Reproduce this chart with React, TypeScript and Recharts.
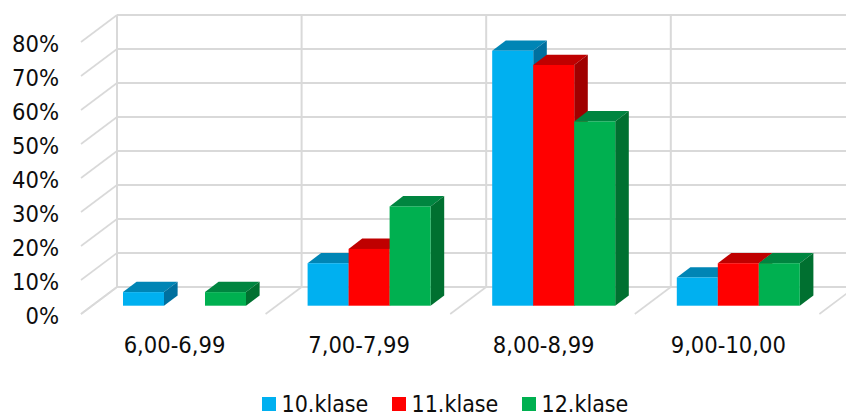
import React from "react";
import { BarChart, Bar, XAxis, YAxis, CartesianGrid, Legend } from "recharts";

const categories = ["6,00-6,99", "7,00-7,99", "8,00-8,99", "9,00-10,00"];
const klase10 = [4, 12.5, 75, 8.3];
const klase11 = [0, 16.7, 70.8, 12.5];
const klase12 = [4, 29.2, 54.2, 12.5];
const yTicks = [0, 10, 20, 30, 40, 50, 60, 70, 80];
const seriesNames = ["10.klase", "11.klase", "12.klase"];

const data = categories.map((name, i) => ({
  name,
  a: klase10[i],
  b: klase11[i],
  c: klase12[i],
}));

const FONT = '"DejaVu Sans Condensed", "DejaVu Sans", sans-serif';
const GRID = "#d9d9d9";
const TEXT = "#0d0d0d";
const BACK_DX = 67.5;
const BACK_DY = 18.7;
const FLOOR_DX = 36;
const FLOOR_DY = 27;
const DEPTH_X = 13.6;
const DEPTH_Y = 10.3;
const FONT_SIZE = 23.5;
const BAND = 184.6;
const PLOT_LEFT = 92.2;
const PLOT_RIGHT = 830.6;

const colorsBlue = { front: "#00b0f0", top: "#0085b5", side: "#00709f" };
const colorsRed = { front: "#ff0000", top: "#bf0000", side: "#a00000" };
const colorsGreen = { front: "#00b050", top: "#008540", side: "#007030" };

function box3d(c: { front: string; top: string; side: string }) {
  return (p: any) => {
    const { x, y, width, height } = p;
    if (!height || height <= 0) return <g />;
    const r = x + width;
    const b = y + height;
    return (
      <g>
        <polygon
          points={`${x},${y} ${x + DEPTH_X},${y - DEPTH_Y} ${r + DEPTH_X},${y - DEPTH_Y} ${r},${y}`}
          fill={c.top}
        />
        <polygon
          points={`${r},${y} ${r + DEPTH_X},${y - DEPTH_Y} ${r + DEPTH_X},${b - DEPTH_Y} ${r},${b}`}
          fill={c.side}
        />
        <rect x={x} y={y} width={width} height={height} fill={c.front} />
      </g>
    );
  };
}

function gridH(p: any) {
  const y = p.y1;
  const by = y - BACK_DY;
  const bx = p.x1 + 24.8;
  return (
    <g key={p.key ?? `h${y}`}>
      <line x1={bx - FLOOR_DX} y1={by + FLOOR_DY} x2={bx} y2={by} stroke={GRID} strokeWidth={1.6} />
      <line x1={bx} y1={by} x2={870} y2={by} stroke={GRID} strokeWidth={2} />
    </g>
  );
}

function wall(x: number, top: number, bottom: number, key: string) {
  const by = bottom - BACK_DY;
  return (
    <g key={key}>
      <line x1={x} y1={top - BACK_DY} x2={x} y2={by} stroke={GRID} strokeWidth={2} />
      <line x1={x - FLOOR_DX} y1={by + FLOOR_DY} x2={x} y2={by} stroke={GRID} strokeWidth={1.6} />
    </g>
  );
}

function gridV(p: any) {
  // the grid also hands over the plot's edges: only band centres get a wall
  const isBandCentre = p.x1 > PLOT_LEFT + 2 && p.x1 < PLOT_RIGHT - 2;
  if (!isBandCentre) return <g key={p.key ?? `edge${p.x1}`} />;
  const x = p.x1 - BACK_DX;
  const top = Math.min(p.y1, p.y2);
  const bottom = Math.max(p.y1, p.y2);
  const isLast = p.x1 > PLOT_RIGHT - BAND / 2 - 2;
  return (
    <g key={p.key ?? `v${x}`}>
      {wall(x, top, bottom, "w")}
      {isLast ? wall(x + BAND, top, bottom, "e") : null}
    </g>
  );
}

function YTick(p: any) {
  return (
    <text x={59} y={p.y + 18} textAnchor="end" fontFamily={FONT} fontSize={FONT_SIZE} fill={TEXT}>
      {p.payload.value}%
    </text>
  );
}

function XTick(p: any) {
  return (
    <text x={p.x - 10} y={353} textAnchor="middle" fontFamily={FONT} fontSize={FONT_SIZE} fill={TEXT}>
      {p.payload.value}
    </text>
  );
}

function LegendBox(p: any) {
  return (
    <div style={{ display: "flex", fontFamily: FONT, fontSize: 23, color: TEXT, lineHeight: "28px" }}>
      {p.payload.map((e: any) => (
        <div key={e.value} style={{ display: "flex", alignItems: "center", width: 130, flex: "none" }}>
          <span style={{ width: 14, height: 14, background: e.color, marginRight: 5.5, marginTop: 2 }} />
          <span style={{ position: "relative", top: 1 }}>{e.value}</span>
        </div>
      ))}
    </div>
  );
}

export default function App() {
  return (
    <div style={{ position: "absolute", left: 0, top: 0, width: 846, height: 412, overflow: "hidden" }}>
      <BarChart
        width={846}
        height={412}
        data={data}
        margin={{ top: 33.7, left: 32.2, right: 15.4, bottom: 18.3 }}
        barCategoryGap={30.8}
        barGap={0}
      >
        <CartesianGrid horizontal={gridH} vertical={gridV} />
        <XAxis
          dataKey="name"
          height={60}
          axisLine={false}
          tickLine={false}
          tick={XTick}
          interval={0}
        />
        <YAxis
          width={60}
          domain={[0, 80]}
          ticks={yTicks}
          axisLine={false}
          tickLine={false}
          tick={YTick}
          interval={0}
        />
        <Legend
          content={LegendBox}
          wrapperStyle={{ position: "absolute", left: 262, top: 389, width: 400, height: 28 }}
        />
        <Bar dataKey="a" name={seriesNames[0]} fill={colorsBlue.front} shape={box3d(colorsBlue)} isAnimationActive={false} />
        <Bar dataKey="b" name={seriesNames[1]} fill={colorsRed.front} shape={box3d(colorsRed)} isAnimationActive={false} />
        <Bar dataKey="c" name={seriesNames[2]} fill={colorsGreen.front} shape={box3d(colorsGreen)} isAnimationActive={false} />
      </BarChart>
    </div>
  );
}
